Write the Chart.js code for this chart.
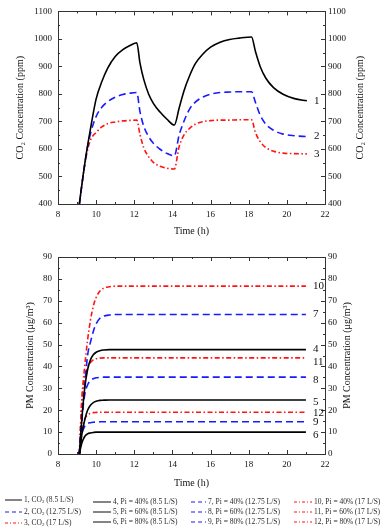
<!DOCTYPE html>
<html>
<head>
<meta charset="utf-8">
<script src="https://cdn.jsdelivr.net/npm/chart.js@4.4.1/dist/chart.umd.min.js"></script>
<style>
  html, body { margin: 0; padding: 0; background: #fff; }
  body { width: 388px; height: 532px; position: relative; overflow: hidden; font-family: "Liberation Serif", serif; }
  #co2Wrap { position: absolute; left: 0; top: 0; width: 388px; height: 240px; }
  #pmWrap { position: absolute; left: 0; top: 240px; width: 388px; height: 250px; }
  #legend { position: absolute; left: 0; top: 0; width: 388px; height: 532px; will-change: transform; }
  .leg { position: absolute; font-size: 7.5px; line-height: 8px; white-space: nowrap; color: #2a2a2a; }
  .leg svg { vertical-align: middle; margin-right: 1px; }
  .leg sub { font-size: 5px; vertical-align: -1px; }
</style>
</head>
<body>
<div id="co2Wrap"><canvas id="co2Chart"></canvas></div>
<div id="pmWrap"><canvas id="pmChart"></canvas></div>
<div id="legend"></div>
<script>
// CO2 chart (top)
const co2Times = [9.12, 9.3, 9.5, 9.7, 10, 10.3, 10.6, 11, 11.4, 11.8, 12.13, 12.3, 12.5, 12.75, 13, 13.35, 13.7, 14.1,
                  14.35, 14.6, 14.9, 15.2, 15.6, 16, 16.5, 17, 17.5, 18.15, 18.35, 18.6, 18.9, 19.3, 19.8, 20.4, 21.05];
const co2Flow85 = [400, 495, 590, 672, 782, 845, 893, 936, 961, 977, 986, 912, 852, 800, 766, 734, 709, 687,
                   748, 810, 866, 910, 945, 970, 988, 998, 1003, 1007, 955, 900, 857, 823, 799, 783, 775];
const co2Flow1275 = [400, 495, 588, 655, 718, 752, 772, 788, 798, 803, 805, 735, 682, 645, 621, 599, 584, 575,
                     650, 700, 745, 770, 789, 799, 805, 807, 808, 808, 770, 723, 690, 668, 654, 648, 645];
const co2Flow17 = [400, 495, 580, 632, 660, 680, 692, 698, 702, 704, 705, 652, 604, 572, 551, 537, 530, 527,
                   608, 650, 675, 690, 699, 703, 705, 705, 706, 706, 660, 627, 605, 592, 585, 583, 582];
const co2Tags = ['1', '2', '3'];

// PM chart (bottom)
const pmTimes = [9.12, 9.25, 9.4, 9.55, 9.7, 9.85, 10, 10.2, 10.4, 10.7, 11, 11.5, 12, 21];
const pm4  = [0, 16, 30, 38.5, 43, 45.3, 46.5, 47.2, 47.5, 47.7, 47.7, 47.7, 47.7, 47.7];
const pm5  = [0, 9, 15.5, 20, 22.3, 23.5, 24.1, 24.5, 24.6, 24.7, 24.7, 24.7, 24.7, 24.7];
const pm6  = [0, 5, 8, 9.2, 9.6, 9.85, 10, 10, 10, 10, 10, 10, 10, 10];
const pm7  = [0, 15, 31, 45, 51, 56, 59.5, 62, 63, 63.5, 63.7, 63.7, 63.7, 63.7];
const pm8  = [0, 16, 27, 31.5, 33.5, 34.4, 34.8, 35, 35.1, 35.1, 35.1, 35.1, 35.1, 35.1];
const pm9  = [0, 9, 12.6, 13.9, 14.3, 14.5, 14.6, 14.7, 14.7, 14.7, 14.7, 14.7, 14.7, 14.7];
const pm10 = [0, 25, 40, 52, 61, 67.5, 71.5, 74.5, 75.8, 76.4, 76.7, 76.7, 76.7, 76.7];
const pm11 = [0, 24, 35, 39.5, 41.8, 43, 43.5, 43.8, 43.9, 43.9, 43.9, 43.9, 43.9, 43.9];
const pm12 = [0, 11, 16, 17.8, 18.6, 18.9, 19, 19.1, 19.1, 19.1, 19.1, 19.1, 19.1, 19.1];
const pmTags = ['4', '5', '6', '7', '8', '9', '10', '11', '12'];

const legendCO2 = ['1, CO<sub>2</sub> (8.5 L/S)', '2, CO<sub>2</sub> (12.75 L/S)', '3, CO<sub>2</sub> (17 L/S)'];
const legendPM = [
  ['4, Pi = 40% (8.5 L/S)', '5, Pi = 60% (8.5 L/S)', '6, Pi = 80% (8.5 L/S)'],
  ['7, Pi = 40% (12.75 L/S)', '8, Pi = 60% (12.75 L/S)', '9, Pi = 80% (12.75 L/S)'],
  ['10, Pi = 40% (17 L/S)', '11, Pi = 60% (17 L/S)', '12, Pi = 80% (17 L/S)']
];

const FONT = '"Liberation Serif", "Times New Roman", serif';
const BLACK = '#000000', BLUE = '#1a1aff', RED = '#ff1414';
const SOLID = [], DASH = [7, 4], DASHDOT = [5, 2.5, 1.5, 2.5];

function pts(xs, ys) { return xs.map((x, i) => ({ x: x, y: ys[i] })); }

function line(ctx, x1, y1, x2, y2) {
  ctx.beginPath(); ctx.moveTo(x1, y1); ctx.lineTo(x2, y2); ctx.stroke();
}

// frame, inward ticks, right-hand title and curve numbers
const framePlugin = {
  id: 'frame',
  afterDraw(chart, args, o) {
    const { ctx, chartArea: a, scales } = chart;
    const xs = scales.x, ys = scales.y;
    ctx.save();
    ctx.strokeStyle = '#333';
    ctx.lineWidth = 1;
    ctx.strokeRect(Math.round(a.left) + 0.5, Math.round(a.top) + 0.5, Math.round(a.right - a.left), Math.round(a.bottom - a.top));
    for (let v = xs.min; v <= xs.max + 1e-9; v += o.xMinor) {
      const px = Math.round(xs.getPixelForValue(v)) + 0.5;
      const len = Math.abs(v / o.xMajor - Math.round(v / o.xMajor)) < 1e-6 ? 4 : 2;
      line(ctx, px, a.bottom, px, a.bottom - len);
      line(ctx, px, a.top, px, a.top + len);
    }
    for (let v = ys.min; v <= ys.max + 1e-9; v += o.yMinor) {
      const py = Math.round(ys.getPixelForValue(v)) + 0.5;
      const len = Math.abs(v / o.yMajor - Math.round(v / o.yMajor)) < 1e-6 ? 4 : 2;
      line(ctx, a.left, py, a.left + len, py);
      line(ctx, a.right, py, a.right - len, py);
    }
    ctx.fillStyle = '#111';
    ctx.font = '10px ' + FONT;
    ctx.textAlign = 'center';
    ctx.textBaseline = 'middle';
    ctx.translate(o.rightTitleX, (a.top + a.bottom) / 2);
    ctx.rotate(-Math.PI / 2);
    ctx.fillText(o.rightTitle, 0, 0);
    ctx.restore();

    ctx.save();
    ctx.fillStyle = '#111';
    ctx.font = '11px ' + FONT;
    ctx.textAlign = 'left';
    ctx.textBaseline = 'middle';
    chart.data.datasets.forEach((ds, i) => {
      const last = ds.data[ds.data.length - 1];
      const px = xs.getPixelForValue(last.x) + o.tagGap;
      const py = ys.getPixelForValue(last.y) + (o.tagShift[i] || 0);
      ctx.fillText(o.tags[i], px, py);
    });
    ctx.restore();
  }
};

const plainNumber = (v) => String(v);

function makeOptions(cfg) {
  return {
    responsive: true,
    maintainAspectRatio: false,
    animation: false,
    layout: { padding: { top: cfg.padTop, left: 0, right: 0, bottom: 0 } },
    elements: { point: { radius: 0 }, line: { tension: 0, cubicInterpolationMode: 'monotone' } },
    plugins: {
      legend: { display: false },
      tooltip: { enabled: false },
      frame: cfg.frame
    },
    scales: {
      x: {
        type: 'linear', min: 8, max: 22,
        grid: { display: false, drawTicks: false },
        border: { display: false },
        ticks: { stepSize: 2, padding: 5, color: '#111', font: { family: FONT, size: 9 }, callback: plainNumber },
        title: { display: true, text: 'Time (h)', color: '#111', font: { family: FONT, size: 10 }, padding: { top: 0, bottom: cfg.xTitlePad } },
        afterFit: (s) => { s.height = cfg.xHeight; }
      },
      y: {
        type: 'linear', position: 'left', min: cfg.yMin, max: cfg.yMax,
        grid: { display: false, drawTicks: false },
        border: { display: false },
        ticks: { stepSize: cfg.yStep, padding: 6, color: '#111', font: { family: FONT, size: 9 }, callback: plainNumber },
        title: { display: true, text: cfg.yTitle, color: '#111', font: { family: FONT, size: 10 }, padding: { top: cfg.yTitlePad, bottom: 0 } },
        afterFit: (s) => { s.width = 58; }
      },
      y2: {
        type: 'linear', position: 'right', min: cfg.yMin, max: cfg.yMax,
        grid: { display: false, drawTicks: false },
        border: { display: false },
        ticks: { stepSize: cfg.yStep, padding: 3, color: '#111', font: { family: FONT, size: 9 }, callback: plainNumber },
        afterFit: (s) => { s.width = 63; }
      }
    }
  };
}

function ds(label, xs, ys, color, dash) {
  return { label: label, data: pts(xs, ys), borderColor: color, borderWidth: 1.6, borderDash: dash, fill: false };
}

new Chart(document.getElementById('co2Chart'), {
  type: 'line',
  data: {
    datasets: [
      ds('1', co2Times, co2Flow85, BLACK, SOLID),
      ds('2', co2Times, co2Flow1275, BLUE, DASH),
      ds('3', co2Times, co2Flow17, RED, DASHDOT)
    ]
  },
  options: makeOptions({
    padTop: 7, xHeight: 36, xTitlePad: 3, yMin: 400, yMax: 1100, yStep: 100,
    yTitle: 'CO\u2082 Concentration (ppm)', yTitlePad: 14,
    frame: { xMajor: 2, xMinor: 1, yMajor: 100, yMinor: 50, rightTitleX: 360,
             rightTitle: 'CO\u2082 Concentration (ppm)', tags: co2Tags, tagGap: 7, tagShift: [0, 0, 0] }
  }),
  plugins: [framePlugin]
});

new Chart(document.getElementById('pmChart'), {
  type: 'line',
  data: {
    datasets: [
      ds('4', pmTimes, pm4, BLACK, SOLID),
      ds('5', pmTimes, pm5, BLACK, SOLID),
      ds('6', pmTimes, pm6, BLACK, SOLID),
      ds('7', pmTimes, pm7, BLUE, DASH),
      ds('8', pmTimes, pm8, BLUE, DASH),
      ds('9', pmTimes, pm9, BLUE, DASH),
      ds('10', pmTimes, pm10, RED, DASHDOT),
      ds('11', pmTimes, pm11, RED, DASHDOT),
      ds('12', pmTimes, pm12, RED, DASHDOT)
    ]
  },
  options: makeOptions({
    padTop: 17, xHeight: 36, xTitlePad: 1, yMin: 0, yMax: 90, yStep: 10,
    yTitle: 'PM Concentration (\u03bcg/m\u00b3)', yTitlePad: 24,
    frame: { xMajor: 2, xMinor: 1, yMajor: 10, yMinor: 5, rightTitleX: 347,
             rightTitle: 'PM Concentration (\u03bcg/m\u00b3)', tags: pmTags, tagGap: 7,
             tagShift: [0, 2, 3, 0, 3, 0, 0, 4, 1] }
  }),
  plugins: [framePlugin]
});

// legend below the charts
const legendBox = document.getElementById('legend');
function legendItem(left, midY, lineLen, color, dash, html) {
  const d = document.createElement('div');
  d.className = 'leg';
  d.style.left = left + 'px';
  d.style.top = (midY - 4) + 'px';
  d.innerHTML = '<svg width="' + (lineLen + 1) + '" height="4"><line x1="0" y1="2" x2="' + lineLen +
    '" y2="2" stroke="' + color + '" stroke-width="1.2" stroke-dasharray="' + (dash.length ? dash.join(' ') : 'none') +
    '"/></svg>' + html;
  legendBox.appendChild(d);
}
const co2Styles = [['#333', SOLID], [BLUE, [4, 3]], [RED, [3, 2, 1, 2]]];
legendCO2.forEach((t, i) => legendItem(5, [499.5, 511.5, 523][i], 17, co2Styles[i][0], co2Styles[i][1], t));
const pmCols = [[93, 18, '#333', SOLID], [191, 15, BLUE, [4, 3]], [294, 18, RED, [3, 2, 1, 2]]];
legendPM.forEach((col, c) => {
  col.forEach((t, r) => legendItem(pmCols[c][0], [501.5, 511.5, 521.5][r], pmCols[c][1], pmCols[c][2], pmCols[c][3], t));
});
</script>
</body>
</html>
